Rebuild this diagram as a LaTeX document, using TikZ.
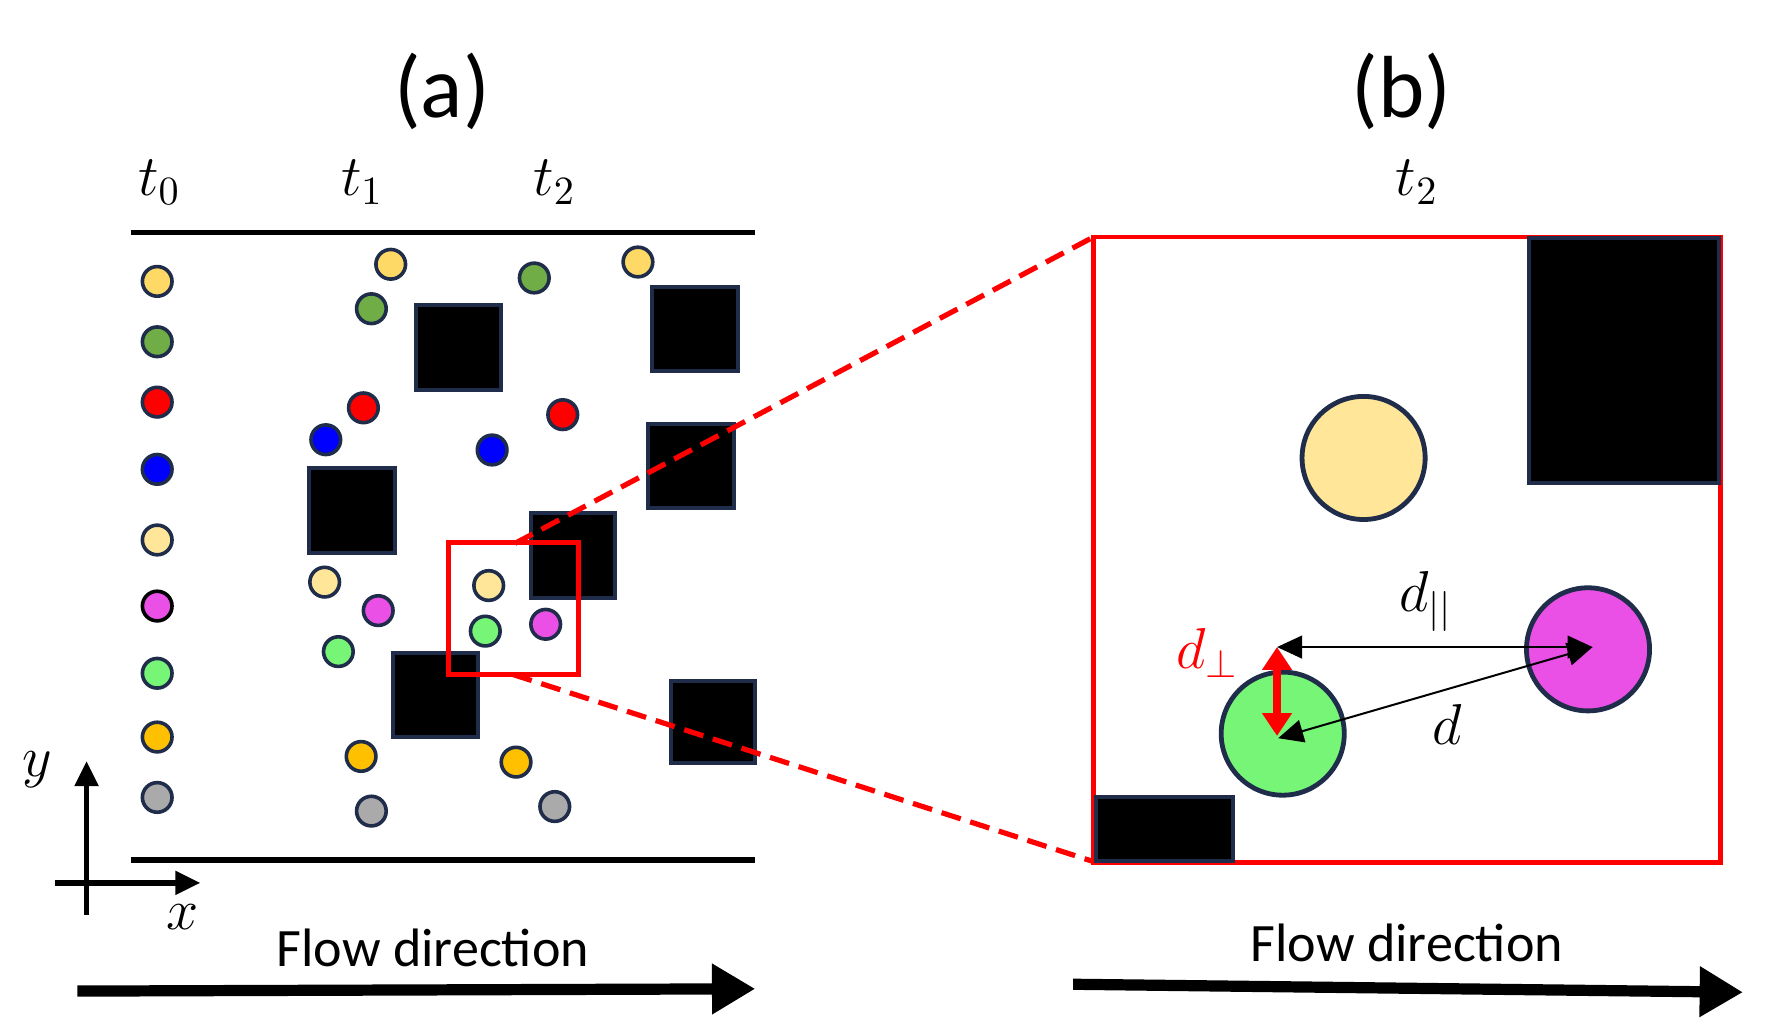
\documentclass[tikz,border=0pt]{standalone}
\usepackage{fontspec}
\setmainfont{Carlito}
\usetikzlibrary{arrows.meta}
\definecolor{nv}{HTML}{1F2D4A}
\definecolor{cy}{HTML}{FFD966}
\definecolor{cg}{HTML}{70AD47}
\definecolor{cr}{HTML}{FF0000}
\definecolor{cb}{HTML}{0000FF}
\definecolor{cly}{HTML}{FFE699}
\definecolor{cm}{HTML}{EA4FE6}
\definecolor{clg}{HTML}{77F577}
\definecolor{co}{HTML}{FFC000}
\definecolor{cgr}{HTML}{AAAAAA}
\begin{document}
\begin{tikzpicture}[x=0.01cm,y=-0.01cm,
  p/.style={circle,draw=nv,line width=0.9pt,minimum size=0.26cm,inner sep=0pt},
  P/.style={circle,draw=nv,line width=1.2pt,minimum size=1.08cm,inner sep=0pt},
  sq/.style={draw=nv,fill=black,line width=1pt},
  wall/.style={line width=1.4pt},
  lab/.style={font=\fontsize{14}{16}\selectfont},
  flow/.style={-{Triangle[length=0.38cm,width=0.42cm]},line width=2.8pt}]
\useasboundingbox (0,0) rectangle (1552,900);
\node[font=\fontsize{22}{24}\selectfont] at (388,80) {(a)};
\node[font=\fontsize{22}{24}\selectfont] at (1230,80) {(b)};
\node[lab] at (140,160) {$t_0$};
\node[lab] at (318,160) {$t_1$};
\node[lab] at (487,160) {$t_2$};
\node[lab] at (1244,160) {$t_2$};
\draw[wall] (115,204) -- (663,204);
\draw[wall] (115,755) -- (663,755);
% obstacles
\foreach \a/\b/\c/\d in {365/268/440/342,572/252/648/326,271/411/347/485,569/372/644/446,466/450/540/525,345/573/420/647,589/598/663/670}
  \draw[sq] (\a,\b) rectangle (\c,\d);
% particles
\foreach \n/\x/\y/\c in {a1/138/247/cy,a2/138/300/cg,a3/138/353/cr,a4/138/412/cb,a5/138/474/cly,a7/138/591/clg,a8/138/647/co,a9/138/700/cgr,
  b1/343/232/cy,b2/326/271/cg,b3/319/358/cr,b4/286/386/cb,b5/285/511/cly,b6/332/536/cm,b7/297/572/clg,b8/317/664/co,b9/326/712/cgr,
  c1/560/230/cy,c2/469/244/cg,c3/494/364/cr,c4/432/395/cb,c5/429/514/cly,c6/479/548/cm,c7/426/554/clg,c8/453/669/co,c9/487/708/cgr}
  \node[p,fill=\c] (\n) at (\x,\y) {};
\node[p,fill=cm,draw=black] (a6) at (138,532) {};
% zoom box
\draw[red,line width=1.2pt] (394,476) coordinate (z1) rectangle (508,592) coordinate (z2);
\draw[red,line width=1.2pt] (960,208) coordinate (Z1) rectangle (1510,757) coordinate (Z2);
\draw[red,dashed,line width=1.3pt,dash pattern=on 5pt off 2.5pt] (452,477) -- (Z1);
\draw[red,dashed,line width=1.3pt,dash pattern=on 5pt off 2.5pt] (450,592) -- (962,757);
\draw[sq] (1342,209) rectangle (1509,424);
\draw[sq] (962,700) rectangle (1082,756);
\node[P,fill=cly] (Y) at (1197,402) {};
\node[P,fill=cm] (M) at (1394,570) {};
\node[P,fill=clg] (G) at (1126,644) {};
\coordinate (Mc) at (1398,568);
\coordinate (Gc) at (1122,648);
\coordinate (Gt) at (1121,568);
\draw[{Triangle[length=0.22cm,width=0.2cm]}-{Triangle[length=0.22cm,width=0.2cm]},line width=0.5pt] (Gt) -- (Mc);
\draw[{Triangle[length=0.22cm,width=0.2cm]}-{Triangle[length=0.22cm,width=0.2cm]},line width=0.5pt] (Gc) -- (Mc);
\draw[red,{Triangle[length=0.2cm,width=0.25cm]}-{Triangle[length=0.2cm,width=0.25cm]},line width=2pt] (Gt) -- (1121,646);
\node[lab] at (1252,528) {$d_{||}$};
\node[lab] at (1270,636) {$d$};
\node[lab,red] at (1060,573) {$d_\perp$};
% axes
\coordinate (o1) at (76,803);
\draw[-{Triangle[length=0.22cm,width=0.2cm]},line width=1.4pt] (o1) -- (76,668);
\draw[-{Triangle[length=0.22cm,width=0.2cm]},line width=1.4pt] (48,775) -- (176,775);
\node[lab] at (33,676) {$y$};
\node[lab] at (160,805) {$x$};
% flow
\node[font=\fontsize{13.5}{16}\selectfont] at (380,832) {Flow direction};
\node[font=\fontsize{13.5}{16}\selectfont] at (1235,828) {Flow direction};
\draw[flow] (68,870) -- (663,868);
\draw[flow] (942,864) -- (1530,871);
\end{tikzpicture}
\end{document}
